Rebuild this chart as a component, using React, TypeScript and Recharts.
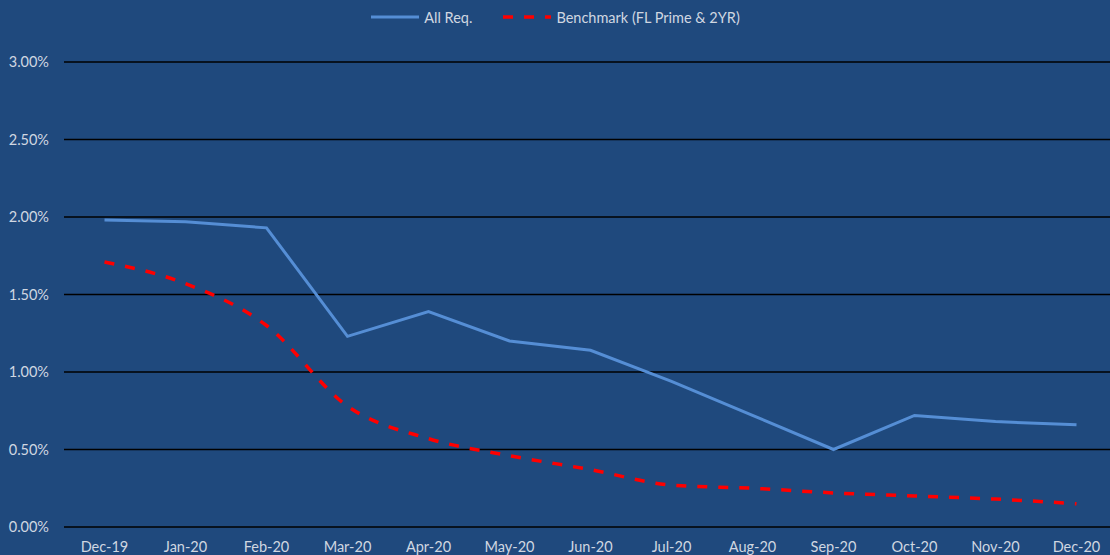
import React from 'react';
import { LineChart, Line, XAxis, YAxis, CartesianGrid, Legend } from 'recharts';

const categories = ['Dec-19', 'Jan-20', 'Feb-20', 'Mar-20', 'Apr-20', 'May-20', 'Jun-20', 'Jul-20', 'Aug-20', 'Sep-20', 'Oct-20', 'Nov-20', 'Dec-20'];
const allReq = [1.98, 1.97, 1.93, 1.23, 1.39, 1.2, 1.14, 0.94, 0.72, 0.5, 0.72, 0.68, 0.66];
const benchmark = [1.71, 1.57, 1.3, 0.78, 0.57, 0.46, 0.37, 0.27, 0.25, 0.22, 0.2, 0.18, 0.15];
const yTicks = [0, 0.5, 1, 1.5, 2, 2.5, 3];

const seriesNames = { allReq: 'All Req.', benchmark: 'Benchmark (FL Prime & 2YR)' };

const data = categories.map((c, i) => ({ month: c, allReq: allReq[i], benchmark: benchmark[i] }));

const BG = '#1F497D';
const TEXT = '#D0D7E1';
const BLUE = '#558ED5';
const RED = '#FF0000';
const FONT = 'Lato, "Noto Sans", sans-serif';

const renderLegend = () => (
  <div style={{ display: 'flex', justifyContent: 'center', alignItems: 'center', height: 26, fontFamily: FONT, fontSize: 14.5, color: TEXT }}>
    <div style={{ display: 'flex', alignItems: 'center', marginRight: 30 }}>
      <svg width={50} height={6} style={{ marginRight: 4 }}>
        <line x1={1} y1={3} x2={49} y2={3} stroke={BLUE} strokeWidth={3} />
      </svg>
      <span>{seriesNames.allReq}</span>
    </div>
    <div style={{ display: 'flex', alignItems: 'center' }}>
      <svg width={50} height={6} style={{ marginRight: 4 }}>
        <line x1={1} y1={3} x2={49} y2={3} stroke={RED} strokeWidth={3.5} strokeDasharray="10 11" />
      </svg>
      <span>{seriesNames.benchmark}</span>
    </div>
  </div>
);

export default function App() {
  return (
    <div style={{ position: 'absolute', left: 0, top: 0, width: 1110, height: 555, overflow: 'hidden', background: BG }}>
      <LineChart width={1117} height={555} data={data} margin={{ top: 36, right: 0, bottom: 0, left: 0 }} style={{ background: BG }}>
        <CartesianGrid horizontal vertical={false} stroke="#000000" strokeWidth={1.5} />
        <XAxis
          dataKey="month"
          axisLine={false}
          tickLine={false}
          tickSize={0}
          tickMargin={15}
          height={28}
          interval={0}
          padding={{ left: 40.5, right: 40.5 }}
          tick={{ fill: TEXT, fontSize: 14.5, fontFamily: FONT }}
        />
        <YAxis
          domain={[0, 3]}
          ticks={yTicks}
          width={64}
          axisLine={false}
          tickLine={false}
          tickSize={0}
          tickMargin={15}
          tickFormatter={(v: number) => v.toFixed(2) + '%'}
          tick={{ fill: TEXT, fontSize: 14.5, fontFamily: FONT }}
        />
        <Legend verticalAlign="top" content={renderLegend} wrapperStyle={{ top: 4, left: 0, width: 1110 }} />
        <Line type="linear" dataKey="allReq" name={seriesNames.allReq} stroke={BLUE} strokeWidth={3} dot={false} isAnimationActive={false} />
        <Line type="monotone" dataKey="benchmark" name={seriesNames.benchmark} stroke={RED} strokeWidth={3.5} strokeDasharray="10 11" dot={false} isAnimationActive={false} />
      </LineChart>
    </div>
  );
}
